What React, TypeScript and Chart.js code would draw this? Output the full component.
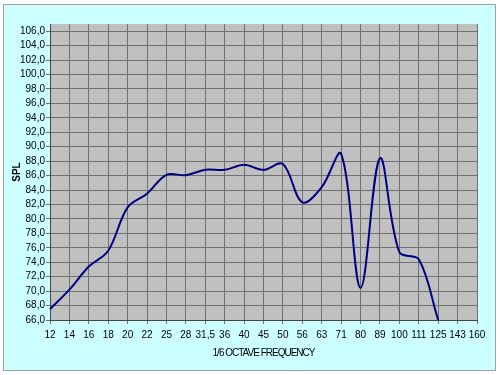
import React, { useEffect, useRef } from "react";
import { Chart, registerables } from "chart.js";

Chart.register(...registerables);

const categories = ["12", "14", "16", "18", "20", "22", "25", "28", "31,5", "36", "40", "45", "50", "56", "63", "71", "80", "89", "100", "111", "125", "143", "160"];
const splValues: (number | null)[] = [67.5, 70.2, 73.4, 75.6, 81.6, 83.5, 86.1, 86.05, 86.8, 86.8, 87.5, 86.8, 87.6, 82.3, 84.4, 89.0, 70.45, 88.4, 75.4, 74.4, 66.0, null, null];
const yTicks = [66, 68, 70, 72, 74, 76, 78, 80, 82, 84, 86, 88, 90, 92, 94, 96, 98, 100, 102, 104, 106];
const xTitle = "1/6 OCTAVE FREQUENCY";
const yTitle = "SPL";

const FONT = "'Liberation Sans', Arial, sans-serif";

const bgPlugin = {
  id: "bgPlugin",
  beforeDraw(chart: any) {
    const { ctx, chartArea } = chart;
    ctx.save();
    ctx.fillStyle = "#ffffff";
    ctx.fillRect(0, 0, chart.width, chart.height);
    ctx.fillStyle = "#CCFFFF";
    ctx.fillRect(3, 4, 493, 367);
    ctx.strokeStyle = "#a0a0a0";
    ctx.lineWidth = 1;
    ctx.strokeRect(3.5, 4.5, 492, 366);
    ctx.fillStyle = "#C0C0C0";
    ctx.fillRect(chartArea.left, chartArea.top, chartArea.right - chartArea.left, chartArea.bottom - chartArea.top);
    ctx.restore();
  },
  afterDraw(chart: any) {
    const { ctx, chartArea } = chart;
    ctx.save();
    ctx.fillStyle = "#000000";
    ctx.font = `10px ${FONT}`;
    ctx.textAlign = "center";
    ctx.textBaseline = "middle";
    try { (ctx as any).letterSpacing = "-1px"; } catch (e) {}
    ctx.fillText(xTitle, (chartArea.left + chartArea.right) / 2, 353);
    try { (ctx as any).letterSpacing = "0px"; } catch (e) {}
    ctx.translate(17, 172);
    ctx.rotate(-Math.PI / 2);
    ctx.font = `bold 10px ${FONT}`;
    ctx.fillText(yTitle, 0, 0);
    ctx.restore();
  },
};

export default function App() {
  const ref = useRef<HTMLCanvasElement | null>(null);
  useEffect(() => {
    document.body.style.margin = "0";
    const canvas = ref.current!;
    const chart = new Chart(canvas, {
      type: "line",
      data: {
        labels: categories,
        datasets: [
          {
            data: splValues,
            borderColor: "#000080",
            borderWidth: 2,
            pointRadius: 0,
            tension: 0.35,
            fill: false,
          },
        ],
      },
      options: {
        responsive: false,
        animation: false,
        devicePixelRatio: 1,
        layout: { padding: { top: 24, right: 23, left: 0, bottom: 0 } },
        plugins: { legend: { display: false }, tooltip: { enabled: false } },
        scales: {
          x: {
            offset: false,
            grid: { color: "#707070", lineWidth: 1, tickLength: 4, drawTicks: true },
            border: { color: "#444444" },
            ticks: { color: "#000000", font: { family: FONT, size: 10 }, padding: 5, maxRotation: 0, autoSkip: false },
            afterFit(scale: any) { scale.height = 55; },
          },
          y: {
            min: 66,
            max: 107,
            grid: { color: "#707070", lineWidth: 1, tickLength: 4, drawTicks: true },
            border: { color: "#444444" },
            ticks: {
              color: "#000000",
              font: { family: FONT, size: 10 },
              padding: 1,
              autoSkip: false,
              callback: (v: any) => Number(v).toFixed(1).replace(".", ","),
            },
            afterBuildTicks(scale: any) {
              scale.ticks = yTicks.map((v) => ({ value: v }));
            },
            afterFit(scale: any) { scale.width = 50; },
          },
        },
      },
      plugins: [bgPlugin],
    });
    return () => chart.destroy();
  }, []);
  return <canvas ref={ref} width={500} height={375} style={{ display: "block" }} />;
}
